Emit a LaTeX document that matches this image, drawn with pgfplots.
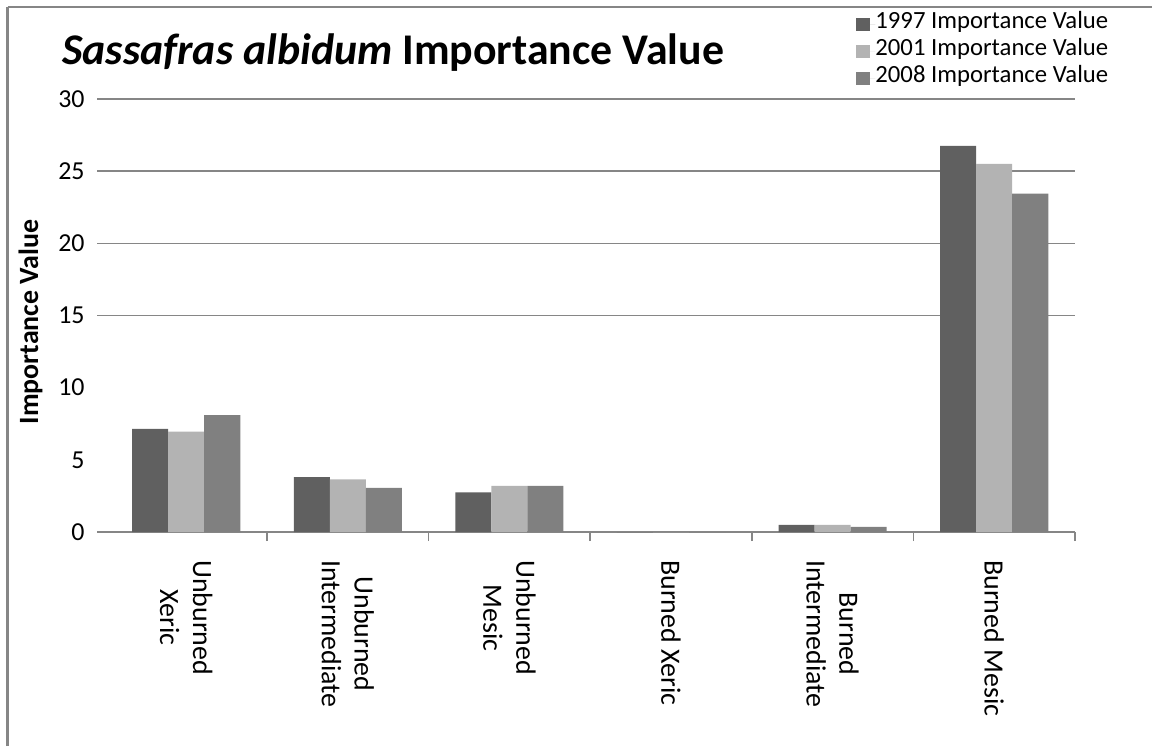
\documentclass[border=0pt]{standalone}
\usepackage{pgfplots}
\pgfplotsset{compat=1.18}
\usepackage{fontspec}
\setmainfont{Carlito}

\definecolor{barA}{RGB}{96,96,96}
\definecolor{barB}{RGB}{179,179,179}
\definecolor{barC}{RGB}{128,128,128}
\definecolor{rulegray}{RGB}{134,134,134}

% Importance values by site class (0..5) for each survey year
\pgfplotstableread{
x  v
0  7.15
1  3.80
2  2.75
3  0
4  0.50
5  26.75
}\yrA
\pgfplotstableread{
x  v
0  6.95
1  3.65
2  3.20
3  0
4  0.50
5  25.50
}\yrB
\pgfplotstableread{
x  v
0  8.10
1  3.05
2  3.20
3  0
4  0.35
5  23.45
}\yrC

\begin{document}
\begin{tikzpicture}[x=1bp,y=1bp]
\useasboundingbox (0,0) rectangle (576,373);
% chart frame (left and top edges)
\draw[rulegray, line width=1.4bp] (3.75,0) -- (3.75,369.5);
\draw[rulegray, line width=1bp] (3.75,369.5) -- (576,369.5);

% title and y label
\node[anchor=base west, inner sep=0pt, font=\fontsize{22}{22}\selectfont\bfseries]
  at (31,341) {\textit{Sassafras albidum} Importance Value};
\node[rotate=90, inner sep=0pt, font=\fontsize{14}{14}\selectfont\bfseries]
  at (15.25,212) {Importance Value};

\begin{axis}[
  at={(48.5bp,107bp)}, anchor=south west,
  scale only axis, width=489bp, height=216.5bp,
  xmin=-0.552, xmax=5.5, ymin=0, ymax=30,
  ybar=0pt, bar width=0.223,
  axis x line*=bottom, axis y line*=left,
  x axis line style={rulegray, line width=0.8bp, -},
  y axis line style={draw=none},
  xtick={0,...,5},
  xticklabels={{Unburned\\Xeric},{Unburned\\Intermediate},{Unburned\\Mesic},
               {Burned Xeric},{Burned\\Intermediate},{Burned Mesic}},
  xtick style={draw=none},
  xtick align=outside,
  major tick length=4.5bp,
  extra x ticks={0.5,1.5,2.5,3.5,4.5,5.5},
  extra x tick labels={},
  extra x tick style={xtick style={draw=rulegray, line width=0.8bp}},
  xticklabel style={rotate=-90, anchor=west, align=center, inner sep=0pt,
    font=\fontsize{14}{16.5}\selectfont},
  xticklabel shift=9.5bp,
  ytick={0,5,...,30},
  ytick style={draw=none},
  ytick align=inside,
  yticklabel style={anchor=east, inner sep=0pt,
    font=\fontsize{13}{13}\selectfont},
  yticklabel shift=6bp,
  /pgf/number format/assume math mode=true,
  extra y ticks={15,20,25,30},
  extra y tick labels={},
  extra y tick style={ymajorgrids=true, major grid style={rulegray, line width=0.8bp}},
  legend style={at={(0.7761,1.2045)}, anchor=north west, draw=none, fill=none,
    inner sep=0pt, row sep=0pt,
    font=\fontsize{12.4}{12.4}\selectfont,
    nodes={inner sep=0pt, text height=9bp, text depth=4.5bp}},
  legend cell align=left,
  legend image code/.code={\fill[#1] (0bp,-3.2bp) rectangle (7bp,3.2bp);
    \path (0bp,0bp) -- (9.5bp,0bp);},
]
\addplot[fill=barA, draw=none] table[x=x, y=v] {\yrA};
\addplot[fill=barB, draw=none] table[x=x, y=v] {\yrB};
\addplot[fill=barC, draw=none] table[x=x, y=v] {\yrC};
\legend{1997 Importance Value, 2001 Importance Value, 2008 Importance Value}
\end{axis}
\end{tikzpicture}
\end{document}
